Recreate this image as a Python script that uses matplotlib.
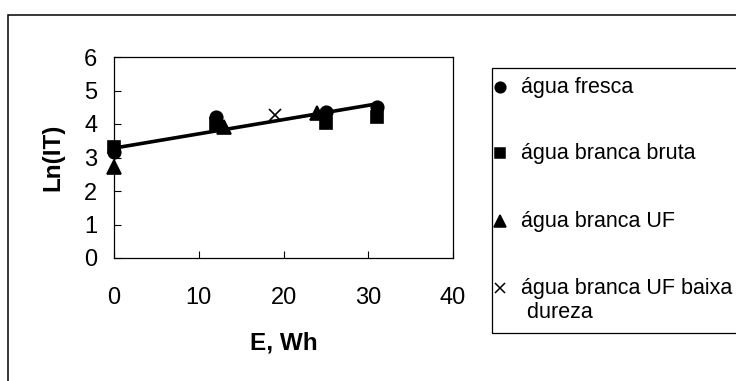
import matplotlib
matplotlib.use("Agg")
import matplotlib.pyplot as plt
from matplotlib.patches import Rectangle
from matplotlib.lines import Line2D

plt.rcParams["font.family"] = ["Liberation Sans", "DejaVu Sans"]

# values
e_fresca = [0, 12, 25, 31]
ln_fresca = [3.15, 4.22, 4.37, 4.50]
e_bruta = [0, 12, 25, 31]
ln_bruta = [3.30, 4.00, 4.03, 4.20]
e_uf = [0, 13, 24]
ln_uf = [2.72, 3.90, 4.33]
e_baixa = [19]
ln_baixa = [4.27]
trend_e = [0, 31]
trend_ln = [3.28, 4.60]

labels = ["água fresca", "água branca bruta", "água branca UF",
          "água branca UF baixa\n dureza"]
markers = ["o", "s", "^", "x"]
msizes = [9, 8.5, 9.5, 8.5]

W, H = 736, 381
fig = plt.figure(figsize=(W / 100, H / 100), dpi=100)
ax = fig.add_axes([114 / W, 1 - 258 / H, (453 - 114) / W, (258 - 57) / H])

ax.plot(trend_e, trend_ln, color="black", lw=2.6, zorder=2)
series = [(e_fresca, ln_fresca), (e_bruta, ln_bruta), (e_uf, ln_uf), (e_baixa, ln_baixa)]
for (xs, ys), m, s in zip(series, markers, msizes):
    ax.plot(xs, ys, m, color="black", ms=s, mew=1.2, ls="none", zorder=3, clip_on=False)

ax.set_xlim(0, 40)
ax.set_ylim(0, 6)
ax.set_xticks([0, 10, 20, 30, 40])
ax.set_yticks([0, 1, 2, 3, 4, 5, 6])
ax.tick_params(axis="x", direction="in", length=5, width=0.8, pad=21, labelsize=17)
ax.tick_params(axis="y", direction="in", length=5, width=0.8, pad=12, labelsize=17)
for sp in ax.spines.values():
    sp.set_linewidth(0.9)
    sp.set_color("black")

ax.set_xlabel("E, Wh", fontsize=17.5, fontweight="bold", labelpad=16)
ax.set_ylabel("Ln(IT)", fontsize=17.5, fontweight="bold", labelpad=14)

# legend box, drawn by hand so the wrapped entry keeps its symbol on the first line
fig.patches.append(Rectangle((492 / W, 1 - 333 / H), 1.0, (333 - 68) / H,
                             transform=fig.transFigure, fill=False,
                             edgecolor="black", lw=0.9))
entry_y = [87, 153, 221, 288]
for lab, m, s, y in zip(labels, markers, msizes, entry_y):
    fig.add_artist(Line2D([500 / W], [1 - y / H], marker=m, ms=s * 0.85, mew=1.1,
                          color="black", ls="none", transform=fig.transFigure))
    for i, line in enumerate(lab.split("\n")):
        fig.text(521 / W, 1 - (y + 6 + 24 * i) / H, line, fontsize=15.5,
                 ha="left", va="baseline")

# outer chart border (runs off the right and bottom edges)
fig.patches.append(Rectangle((8 / W, -0.2), 1.5, 1.2 - 15 / H,
                             transform=fig.transFigure, fill=False,
                             edgecolor="black", lw=1.1))

fig.savefig("out.png", dpi=100)
